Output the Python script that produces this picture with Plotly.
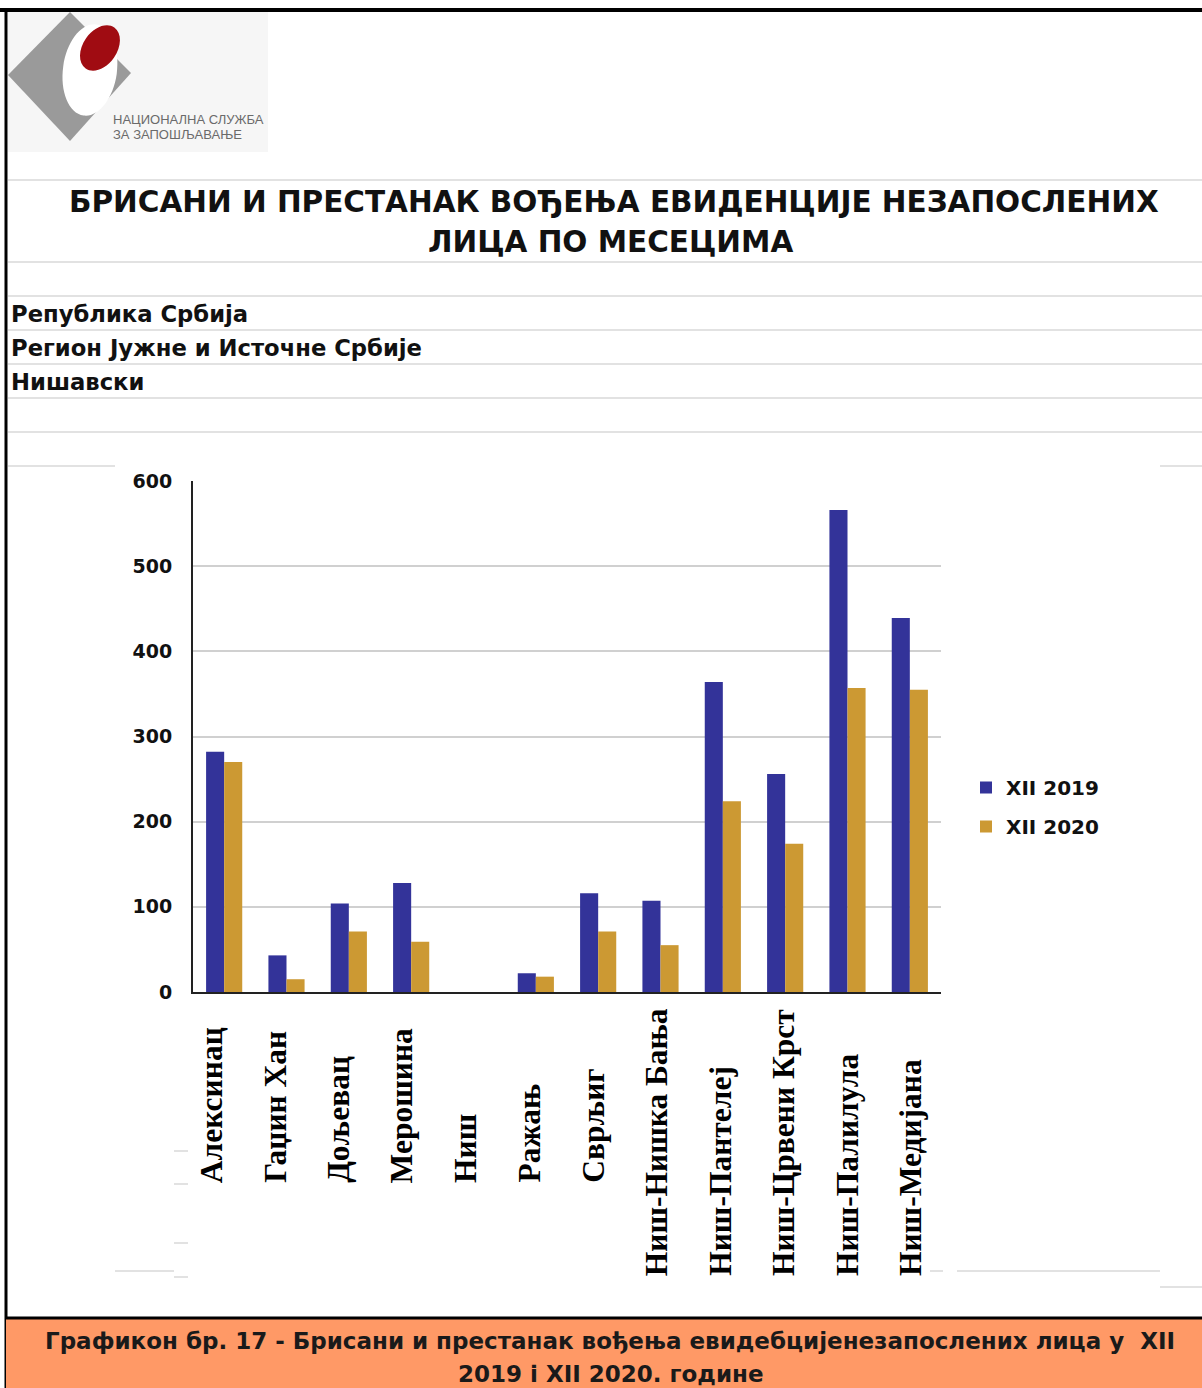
import math
import plotly.graph_objects as go

W, H = 1202, 1388

categories = ["Алексинац", "Гаџин Хан", "Дољевац", "Мерошина", "Ниш", "Ражањ", "Сврљиг",
              "Ниш-Нишка Бања", "Ниш-Пантелеј", "Ниш-Црвени Крст", "Ниш-Палилула", "Ниш-Медијана"]
xii_2019 = [282, 43, 104, 128, 0, 22, 116, 107, 364, 256, 566, 439]
xii_2020 = [270, 15, 71, 59, 0, 18, 71, 55, 224, 174, 357, 355]
series_names = ["XII 2019", "XII 2020"]
y_ticks = [0, 100, 200, 300, 400, 500, 600]

title_lines = ["БРИСАНИ И ПРЕСТАНАК ВОЂЕЊА ЕВИДЕНЦИЈЕ НЕЗАПОСЛЕНИХ", "ЛИЦА ПО МЕСЕЦИМА"]
sub_lines = ["Република Србија", "Регион Јужне и Источне Србије", "Нишавски"]
caption_lines = ["Графикон бр. 17 - Брисани и престанак вођења евидебцијенезапослених лица у  XII",
                 "2019 і XII 2020. године"]
logo_lines = ["НАЦИОНАЛНА СЛУЖБА", "ЗА ЗАПОШЉАВАЊЕ"]


def px(x):
    return x / W


def py(y):
    return 1 - y / H


BLUE = "#333399"
GOLD = "#CC9933"

fig = go.Figure()
fig.add_trace(go.Bar(x=categories, y=xii_2019, name=series_names[0], legendgroup="a",
                     marker=dict(color=BLUE, line=dict(width=0))))
fig.add_trace(go.Bar(x=categories, y=xii_2020, name=series_names[1], legendgroup="b",
                     marker=dict(color=GOLD, line=dict(width=0))))

shapes = []
annotations = []


def hline(y, x0, x1, color="#d9d9d9", width=1.5):
    shapes.append(dict(type="line", xref="paper", yref="paper", x0=px(x0), x1=px(x1),
                       y0=py(y), y1=py(y), line=dict(color=color, width=width), layer="below"))


# logo background
shapes.append(dict(type="rect", xref="paper", yref="paper", x0=px(8), x1=px(268), y0=py(152), y1=py(12),
                   fillcolor="#f6f6f6", line=dict(width=0), layer="below"))
# diamond
dpath = "M{},{} L{},{} L{},{} L{},{} Z".format(px(8), py(75), px(70), py(12), px(131), py(73), px(70), py(141))
shapes.append(dict(type="path", xref="paper", yref="paper", path=dpath, fillcolor="#9a9a9a",
                   line=dict(width=0), layer="below"))


def ellipse_path(cx, cy, a, b, ang_deg):
    k = 0.5523
    t = math.radians(ang_deg)
    ux, uy = math.cos(t), math.sin(t)
    vx, vy = -math.sin(t), math.cos(t)

    def P(s, r):
        return "{:.5f},{:.5f}".format(px(cx + s * a * ux + r * b * vx), py(cy + s * a * uy + r * b * vy))

    return ("M" + P(1, 0) +
            " C" + P(1, k) + " " + P(k, 1) + " " + P(0, 1) +
            " C" + P(-k, 1) + " " + P(-1, k) + " " + P(-1, 0) +
            " C" + P(-1, -k) + " " + P(-k, -1) + " " + P(0, -1) +
            " C" + P(k, -1) + " " + P(1, -k) + " " + P(1, 0) + " Z")


shapes.append(dict(type="path", xref="paper", yref="paper", path=ellipse_path(90, 70, 27, 46, 8),
                   fillcolor="#ffffff", line=dict(width=0), layer="below"))
shapes.append(dict(type="path", xref="paper", yref="paper", path=ellipse_path(100, 48, 25, 17, -55),
                   fillcolor="#a00c12", line=dict(width=0), layer="below"))
for i, t in enumerate(logo_lines):
    annotations.append(dict(text=t, xref="paper", yref="paper", x=px(111), y=py(119 + 15 * i),
                            xanchor="left", yanchor="middle", showarrow=False,
                            font=dict(family="Liberation Sans", size=13, color="#6a6a6a")))

# spreadsheet cell lines
for yy in [180, 262, 296, 330, 364, 398, 432]:
    hline(yy, 8, 1202)
hline(466, 8, 115)
hline(466, 1160, 1202)
hline(1271, 115, 174)
hline(1271, 957, 1160)
hline(1271, 930, 943)
hline(1287, 1160, 1202)
for yy in [1151, 1184, 1243, 1277]:
    hline(yy, 174, 188)

# page borders
shapes.append(dict(type="line", xref="paper", yref="paper", x0=0, x1=1, y0=py(10), y1=py(10),
                   line=dict(color="#000000", width=4)))
shapes.append(dict(type="line", xref="paper", yref="paper", x0=px(6), x1=px(6), y0=py(8), y1=0,
                   line=dict(color="#000000", width=3)))
# caption box
shapes.append(dict(type="rect", xref="paper", yref="paper", x0=px(6), x1=1, y0=0, y1=py(1319),
                   fillcolor="#FF9966", line=dict(width=0)))
shapes.append(dict(type="line", xref="paper", yref="paper", x0=px(5), x1=1, y0=py(1318), y1=py(1318),
                   line=dict(color="#000000", width=3)))

# titles
for t, (xx, yy) in zip(title_lines, [(614, 202), (610, 242)]):
    annotations.append(dict(text=t, xref="paper", yref="paper", x=px(xx), y=py(yy), xanchor="center",
                            yanchor="middle", showarrow=False,
                            font=dict(family="DejaVu Sans", size=29.5, color="#111111", weight="bold")))
for i, t in enumerate(sub_lines):
    annotations.append(dict(text=t, xref="paper", yref="paper", x=px(9), y=py(314 + 34 * i), xanchor="left",
                            yanchor="middle", showarrow=False,
                            font=dict(family="DejaVu Sans", size=22.7, color="#111111", weight="bold")))
for t, (xx, yy) in zip(caption_lines, [(610, 1341), (611, 1374)]):
    annotations.append(dict(text=t, xref="paper", yref="paper", x=px(xx), y=py(yy), xanchor="center",
                            yanchor="middle", showarrow=False,
                            font=dict(family="DejaVu Sans", size=23, color="#1a1a1a", weight="bold")))

# category labels (rotated); label slots are spaced slightly wider than the bar slots
for i, c in enumerate(categories):
    bottom = 1278 if len(c) > 10 else 1185
    annotations.append(dict(text=c, xref="x", yref="paper", x=c, y=py(bottom), xanchor="center",
                            yanchor="bottom", textangle=-90, showarrow=False, xshift=-13 + 1.25 * i,
                            font=dict(family="Liberation Serif", size=31.5, color="#000000", weight="bold")))

fig.update_layout(
    width=W, height=H,
    margin=dict(l=0, r=0, t=0, b=0, pad=0),
    paper_bgcolor="#ffffff", plot_bgcolor="rgba(0,0,0,0)",
    barmode="group", bargap=0.42, bargroupgap=0,
    showlegend=True,
    legend=dict(x=px(966), y=py(768), xanchor="left", yanchor="top", bgcolor="rgba(0,0,0,0)",
                tracegroupgap=10, font=dict(family="DejaVu Sans", size=20, color="#111111", weight="bold")),
    xaxis=dict(domain=[px(193), px(941)], range=[-0.5, len(categories) - 0.5], showticklabels=False,
               showline=True, linecolor="#222222", linewidth=2, showgrid=False, ticks="",
               automargin=False, fixedrange=True),
    yaxis=dict(domain=[py(992), py(481)], range=[0, 600], tickvals=y_ticks, showline=True,
               linecolor="#222222", linewidth=2, showgrid=True, gridcolor="#d0d0d0", gridwidth=1.5,
               zeroline=False, ticks="", ticklabelstandoff=15, automargin=False,
               tickfont=dict(family="DejaVu Sans", size=19, color="#111111", weight="bold")),
    shapes=shapes,
    annotations=annotations,
)

fig.write_html("out.html", config={"displayModeBar": False},
               post_script="document.body.style.margin='0';document.body.style.padding='0';"
                           "document.documentElement.style.overflow='hidden';")
